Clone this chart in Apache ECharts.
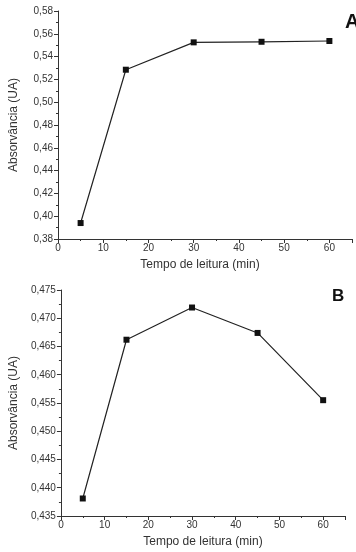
<!DOCTYPE html>
<html>
<head>
<meta charset="utf-8">
<script src="https://cdn.jsdelivr.net/npm/echarts@6/dist/echarts.min.js"></script>
<style>
  html, body { margin: 0; padding: 0; background: #fff; }
  #chart { width: 356px; height: 552px; }
</style>
</head>
<body>
<div id="chart"></div>
<script>
  // tempo de leitura (min)
  var tempos = [5, 15, 30, 45, 60];
  // absorvância painel A
  var absA = [0.394, 0.5285, 0.5525, 0.553, 0.5537];
  // absorvância painel B
  var absB = [0.4381, 0.4662, 0.4719, 0.4674, 0.4555];

  var fonte = 'Liberation Sans, Arial, sans-serif';
  var cor = '#333';

  function pares(xs, ys) {
    var out = [];
    for (var i = 0; i < xs.length; i++) out.push([xs[i], ys[i]]);
    return out;
  }

  function eixoX(idx, desvio) {
    return {
      gridIndex: idx,
      type: 'value',
      min: 0, max: 65, interval: 10,
      name: 'Tempo de leitura (min)',
      nameLocation: 'middle',
      nameGap: 20,
      nameTextStyle: { fontFamily: fonte, fontSize: 12, color: cor, padding: [0, desvio, 0, 0] },
      axisLine: { lineStyle: { color: '#333', width: 1 } },
      axisTick: { inside: false, length: 4, lineStyle: { color: '#333' } },
      minorTick: { show: true, splitNumber: 2, length: 2, lineStyle: { color: '#333' } },
      axisLabel: { showMaxLabel: false, fontFamily: fonte, fontSize: 10, color: cor, margin: 4 },
      splitLine: { show: false }
    };
  }

  function eixoY(idx, min, max, step, casas) {
    return {
      gridIndex: idx,
      type: 'value',
      min: min, max: max, interval: step,
      name: 'Absorvância (UA)',
      nameLocation: 'middle',
      nameGap: 38,
      nameTextStyle: { fontFamily: fonte, fontSize: 12, color: cor },
      axisLine: { show: true, lineStyle: { color: '#333', width: 1 } },
      axisTick: { show: true, inside: false, length: 4, lineStyle: { color: '#333' } },
      minorTick: { show: true, splitNumber: 2, length: 2, lineStyle: { color: '#333' } },
      axisLabel: {
        fontFamily: fonte, fontSize: 10, color: cor, margin: 5,
        formatter: function (v) { return v.toFixed(casas).replace('.', ','); }
      },
      splitLine: { show: false }
    };
  }

  function serie(idx, dados) {
    return {
      type: 'line',
      xAxisIndex: idx,
      yAxisIndex: idx,
      data: pares(tempos, dados),
      symbol: 'rect',
      symbolSize: 6,
      lineStyle: { color: '#222', width: 1.2 },
      itemStyle: { color: '#111' },
      animation: false
    };
  }

  var chart = echarts.init(document.getElementById('chart'));
  chart.setOption({
    backgroundColor: '#fff',
    animation: false,
    grid: [
      { left: 53, top: 11, width: 299, height: 228 },
      { left: 50, top: 290, width: 295, height: 226 }
    ],
    xAxis: [eixoX(0, 10), eixoX(1, 0)],
    yAxis: [eixoY(0, 0.38, 0.58, 0.02, 2), eixoY(1, 0.435, 0.475, 0.005, 3)],
    series: [serie(0, absA), serie(1, absB)],
    graphic: [
      { type: 'text', left: 345, top: 12, style: { text: 'A', font: 'bold 20px ' + fonte, fill: '#111' } },
      { type: 'text', left: 332, top: 288, style: { text: 'B', font: 'bold 17px ' + fonte, fill: '#111' } }
    ]
  });
</script>
</body>
</html>
